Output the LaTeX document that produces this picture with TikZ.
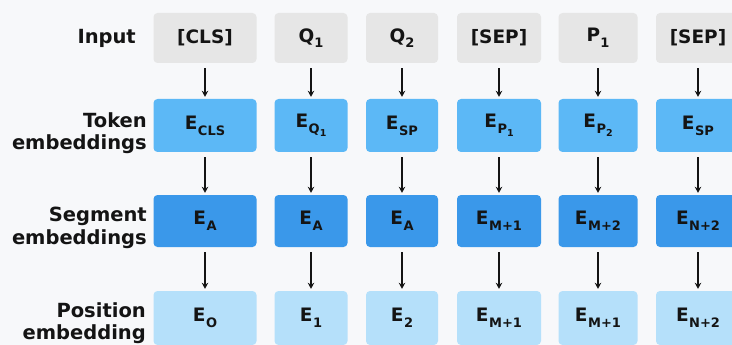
\documentclass[tikz,border=0pt]{standalone}
\usepackage{fontspec}
\setmainfont{DejaVu Sans}
\usetikzlibrary{arrows.meta}

\definecolor{bgcol}{HTML}{F7F8FA}
\definecolor{inputcol}{HTML}{E6E6E6}
\definecolor{tokencol}{HTML}{5CB8F6}
\definecolor{segcol}{HTML}{3A98EA}
\definecolor{poscol}{HTML}{B5E0FA}
\definecolor{inkcol}{HTML}{141414}

% E with a smaller lowered index
\newcommand{\Eidx}[1]{E\kern0.5pt\raisebox{-0.32em}{\fontsize{13}{14}\selectfont\bfseries #1}}
% small lowered digit inside an index or a token
\newcommand{\tinyidx}[1]{\raisebox{-0.25em}{\fontsize{9.5}{10}\selectfont\bfseries #1}}
\newcommand{\tokidx}[1]{\raisebox{-0.3em}{\fontsize{13}{14}\selectfont\bfseries #1}}

\begin{document}
\begin{tikzpicture}[x=1pt,y=-1pt,
  cell/.style={rounded corners=4pt, inner sep=0pt, text=inkcol,
    font=\bfseries\fontsize{18.5}{20}\selectfont},
  incell/.style={cell, fill=inputcol},
  tokcell/.style={cell, fill=tokencol},
  segcell/.style={cell, fill=segcol},
  poscell/.style={cell, fill=poscol},
  rowlabel/.style={anchor=east, align=right, text=inkcol,
    font=\bfseries\fontsize{19.5}{22.5}\selectfont, inner sep=0pt},
  flow/.style={draw=inkcol, line width=1.8pt,
    -{Stealth[length=6pt,width=6.5pt]}, shorten <=5pt, shorten >=2pt}]

\fill[bgcol] (0,0) rectangle (732,345);
\useasboundingbox (0,0) rectangle (732,345);

% row labels
\node[rowlabel] (lin)  at (136,38)  {Input};
\node[rowlabel] (ltok) at (147,133) {Token\\embeddings};
\node[rowlabel] (lseg) at (147,228) {Segment\\embeddings};
\node[rowlabel] (lpos) at (146,323) {Position\\embedding};

% input tokens
\node[incell, minimum width=103pt, minimum height=50pt] (ia) at (205,38) {[CLS]};
\node[incell, minimum width=73pt,  minimum height=50pt] (ib) at (311,38) {Q\tokidx{1}};
\node[incell, minimum width=72pt,  minimum height=50pt] (ic) at (402,38) {Q\tokidx{2}};
\node[incell, minimum width=84pt,  minimum height=50pt] (id) at (499,38) {[SEP]};
\node[incell, minimum width=79pt,  minimum height=50pt] (ie) at (598,38) {P\tokidx{1}};
\node[incell, minimum width=84pt,  minimum height=50pt] (if) at (698,38) {[SEP]};

% token embeddings
\node[tokcell, minimum width=103pt, minimum height=53pt] (ta) at (205,125.5) {\Eidx{CLS}};
\node[tokcell, minimum width=73pt,  minimum height=53pt] (tb) at (311,125.5) {\Eidx{Q\tinyidx{1}}};
\node[tokcell, minimum width=72pt,  minimum height=53pt] (tc) at (402,125.5) {\Eidx{SP}};
\node[tokcell, minimum width=84pt,  minimum height=53pt] (td) at (499,125.5) {\Eidx{P\tinyidx{1}}};
\node[tokcell, minimum width=79pt,  minimum height=53pt] (te) at (598,125.5) {\Eidx{P\tinyidx{2}}};
\node[tokcell, minimum width=84pt,  minimum height=53pt] (tf) at (698,125.5) {\Eidx{SP}};

% segment embeddings
\node[segcell, minimum width=103pt, minimum height=52pt] (sa) at (205,221) {\Eidx{A}};
\node[segcell, minimum width=73pt,  minimum height=52pt] (sb) at (311,221) {\Eidx{A}};
\node[segcell, minimum width=72pt,  minimum height=52pt] (sc) at (402,221) {\Eidx{A}};
\node[segcell, minimum width=84pt,  minimum height=52pt] (sd) at (499,221) {\Eidx{M+1}};
\node[segcell, minimum width=79pt,  minimum height=52pt] (se) at (598,221) {\Eidx{M+2}};
\node[segcell, minimum width=84pt,  minimum height=52pt] (sf) at (698,221) {\Eidx{N+2}};

% position embeddings
\node[poscell, minimum width=103pt, minimum height=54pt] (pa) at (205,318) {\Eidx{O}};
\node[poscell, minimum width=73pt,  minimum height=54pt] (pb) at (311,318) {\Eidx{1}};
\node[poscell, minimum width=72pt,  minimum height=54pt] (pc) at (402,318) {\Eidx{2}};
\node[poscell, minimum width=84pt,  minimum height=54pt] (pd) at (499,318) {\Eidx{M+1}};
\node[poscell, minimum width=79pt,  minimum height=54pt] (pe) at (598,318) {\Eidx{M+1}};
\node[poscell, minimum width=84pt,  minimum height=54pt] (pf) at (698,318) {\Eidx{N+2}};

% vertical flow between the rows
\foreach \n in {a,b,c,d,e,f}{
  \draw[flow] (i\n.south) -- (t\n.north);
  \draw[flow] (t\n.south) -- (s\n.north);
  \draw[flow] (s\n.south) -- (p\n.north);
}
\end{tikzpicture}
\end{document}
